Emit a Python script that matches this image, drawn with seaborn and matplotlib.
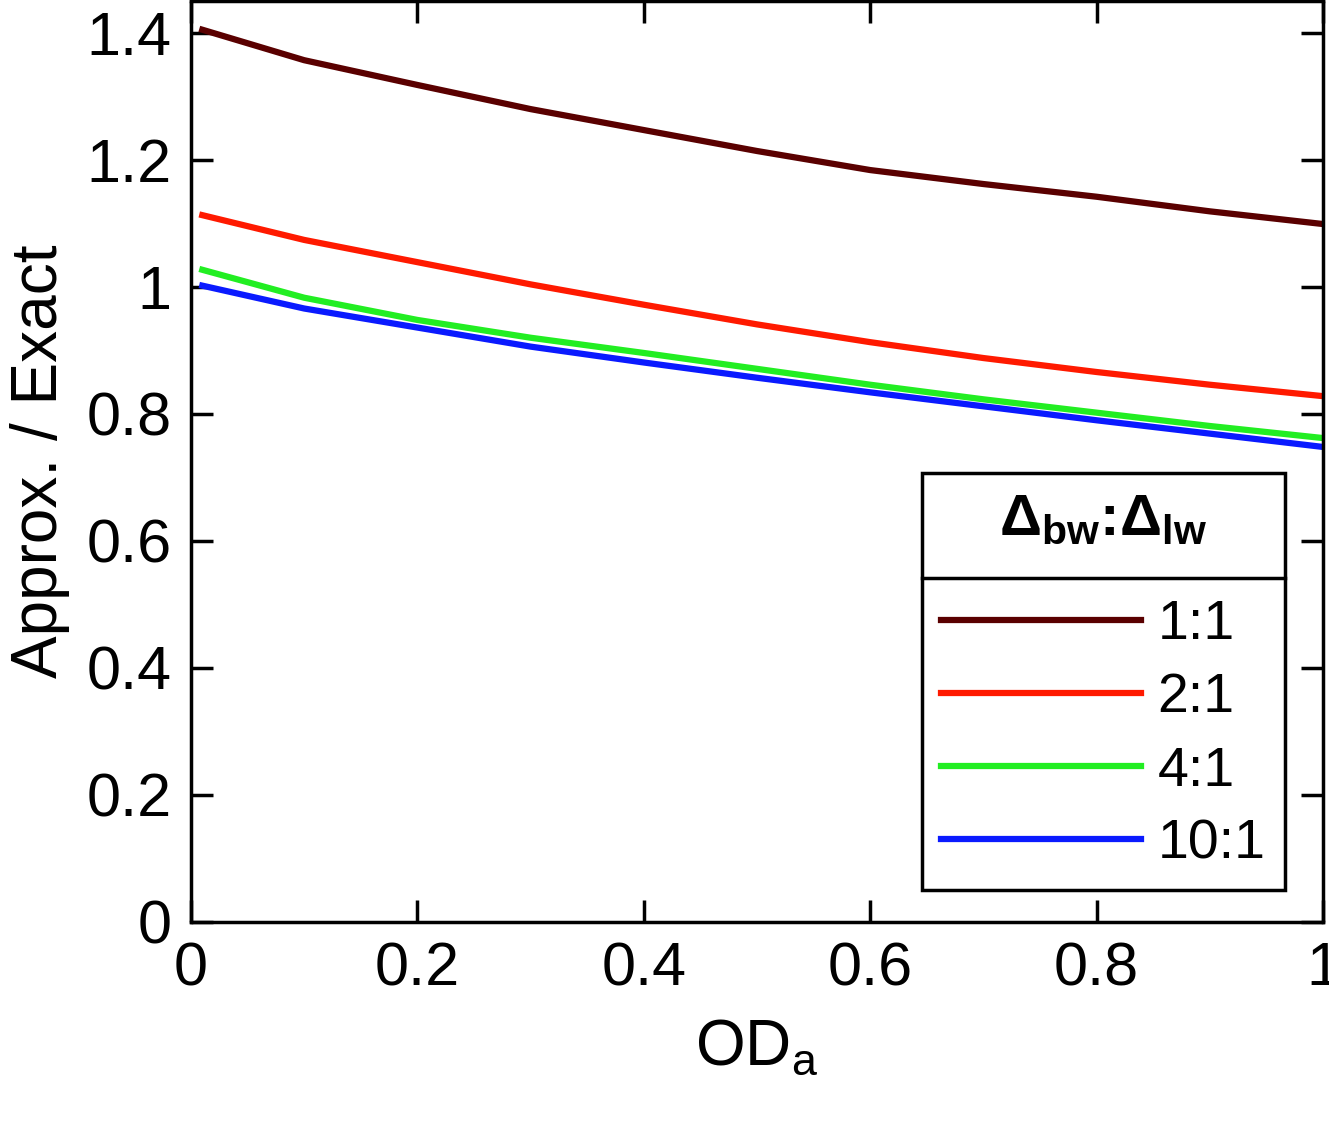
import matplotlib
matplotlib.use("Agg")
import matplotlib.pyplot as plt
import seaborn as sns
import pandas as pd

od = [0.01, 0.1, 0.2, 0.3, 0.4, 0.5, 0.6, 0.7, 0.8, 0.9, 1.0]
r11 = [1.405, 1.357, 1.318, 1.280, 1.247, 1.214, 1.184, 1.162, 1.142, 1.119, 1.099]
r21 = [1.113, 1.074, 1.039, 1.004, 0.972, 0.941, 0.913, 0.888, 0.866, 0.846, 0.828]
r41 = [1.027, 0.983, 0.948, 0.920, 0.896, 0.871, 0.846, 0.823, 0.802, 0.781, 0.762]
r101 = [1.002, 0.966, 0.936, 0.906, 0.881, 0.857, 0.834, 0.812, 0.790, 0.769, 0.748]
labels = ["1:1", "2:1", "4:1", "10:1"]
colors = ["#5a0000", "#ff1a00", "#22ee22", "#0a1aff"]

rows = []
for lab, ys in zip(labels, [r11, r21, r41, r101]):
    for x, y in zip(od, ys):
        rows.append({"od": x, "ratio": y, "lab": lab})
df = pd.DataFrame(rows)

plt.rcParams["font.family"] = "Liberation Sans"
fig = plt.figure(figsize=(13.29, 11.31), dpi=100)
ax = fig.add_axes([0.1437, 0.1848, 0.8518, 0.8142])
sns.lineplot(data=df, x="od", y="ratio", hue="lab", palette=colors, linewidth=4.5, ax=ax)
ax.set_xlim(0, 1)
ax.set_ylim(0, 1.45)
ax.set_xticks([0, 0.2, 0.4, 0.6, 0.8, 1])
ax.set_xticklabels(["0", "0.2", "0.4", "0.6", "0.8", "1"])
ax.set_yticks([0, 0.2, 0.4, 0.6, 0.8, 1, 1.2, 1.4])
ax.set_yticklabels(["0", "0.2", "0.4", "0.6", "0.8", "1", "1.2", "1.4"])
ax.tick_params(direction="in", length=16, width=2.5, labelsize=44, top=True, right=True, pad=14)
for s in ax.spines.values():
    s.set_linewidth(2.5)
ax.set_xlabel(r"OD$_\mathregular{a}$", fontsize=46, labelpad=14)
ax.set_ylabel("Approx. / Exact", fontsize=46, labelpad=12)
leg = ax.legend(title=r"$\mathregular{\Delta_{bw}}$:$\mathregular{\Delta_{lw}}$",
                loc="lower right", bbox_to_anchor=(0.967, 0.213),
                bbox_transform=fig.transFigure, borderaxespad=0, fontsize=40,
                title_fontsize=42, frameon=True, fancybox=False, edgecolor="black",
                handlelength=3.6, borderpad=0.35, labelspacing=0.38,
                handletextpad=0.3, framealpha=1)
leg.get_frame().set_linewidth(2.5)
leg.get_title().set_fontweight("bold")
leg._legend_box.sep = 38
fig.canvas.draw()
bb = leg.get_window_extent().transformed(fig.transFigure.inverted())
fig.add_artist(plt.Line2D([bb.x0, bb.x1], [1 - 578 / 1131, 1 - 578 / 1131],
                          color="black", lw=2.5, transform=fig.transFigure, zorder=10))
fig.savefig("out.png", dpi=100)
